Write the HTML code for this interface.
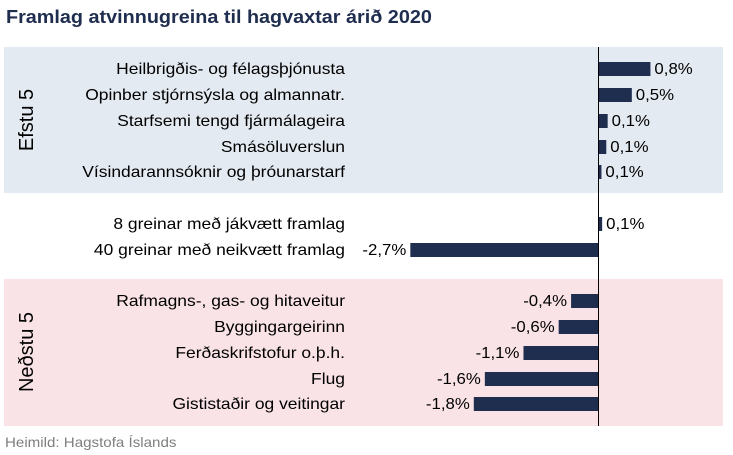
<!DOCTYPE html>
<html><head><meta charset="utf-8"><style>
body{margin:0;width:733px;height:455px;background:#fff;overflow:hidden;font-family:"Liberation Sans",sans-serif}
</style></head><body>
<svg id="chart" width="733" height="455" style="position:absolute;left:0;top:0">
<text id="title" x="6" y="23" font-size="18" font-weight="bold" fill="#1f2d4f">Framlag atvinnugreina til hagvaxtar árið 2020</text>
<rect x="4" y="47" width="719" height="146" fill="#e4eaf1"/>
<rect x="4" y="279" width="719" height="147" fill="#f9e3e6"/>
<text transform="translate(33,120) rotate(-90)" text-anchor="middle" font-size="20" fill="#000">Efstu 5</text>
<text transform="translate(33,352) rotate(-90)" text-anchor="middle" font-size="20" fill="#000">Neðstu 5</text>
<g id="bars"></g>
<line x1="598.5" y1="47" x2="598.5" y2="426" stroke="#000" stroke-width="1"/>
<text id="src" x="5" y="447" font-size="14" fill="#7f7f7f">Heimild: Hagstofa Íslands</text>
</svg>
<script>
const categories=["Heilbrigðis- og félagsþjónusta","Opinber stjórnsýsla og almannatr.","Starfsemi tengd fjármálageira","Smásöluverslun","Vísindarannsóknir og þróunarstarf","8 greinar með jákvætt framlag","40 greinar með neikvætt framlag","Rafmagns-, gas- og hitaveitur","Byggingargeirinn","Ferðaskrifstofur o.þ.h.","Flug","Gististaðir og veitingar"];
const values=[0.76,0.49,0.14,0.12,0.05,0.06,-2.72,-0.39,-0.57,-1.08,-1.64,-1.8];
const valueLabels=["0,8%","0,5%","0,1%","0,1%","0,1%","0,1%","-2,7%","-0,4%","-0,6%","-1,1%","-1,6%","-1,8%"];
const rowY=[69,95,121,147,172,224,250,301,327,353,379,404];
const x=v=>598+v*69;
const g=document.getElementById('bars');
const NS='http://www.w3.org/2000/svg';
function stretch(el,f){const L=el.getComputedTextLength();el.setAttribute('textLength',L*f);el.setAttribute('lengthAdjust','spacingAndGlyphs');}
categories.forEach((c,i)=>{
  const y=rowY[i],v=values[i];
  const t=document.createElementNS(NS,'text');
  t.setAttribute('x',345);t.setAttribute('y',y+5);t.setAttribute('text-anchor','end');
  t.setAttribute('font-size','16');t.setAttribute('fill','#000');t.textContent=c;
  
  
  g.appendChild(t);stretch(t,1.09);
  const r=document.createElementNS(NS,'rect');
  const x0=Math.min(x(0),x(v)),w=Math.abs(x(v)-x(0));
  r.setAttribute('x',x0);r.setAttribute('y',y-7);r.setAttribute('width',w);r.setAttribute('height',14);
  r.setAttribute('fill','#1f2d4f');
  
  
  g.appendChild(r);
  const l=document.createElementNS(NS,'text');
  if(v>=0){l.setAttribute('x',x(v)+4);l.setAttribute('text-anchor','start');}
  else{l.setAttribute('x',x(v)-4);l.setAttribute('text-anchor','end');}
  l.setAttribute('y',y+5);l.setAttribute('font-size','16');l.setAttribute('fill','#000');l.textContent=valueLabels[i];
  
  
  g.appendChild(l);stretch(l,1.05);
});
stretch(document.getElementById('title'),1.1);
stretch(document.getElementById('src'),1.08);
</script>
</body></html>
